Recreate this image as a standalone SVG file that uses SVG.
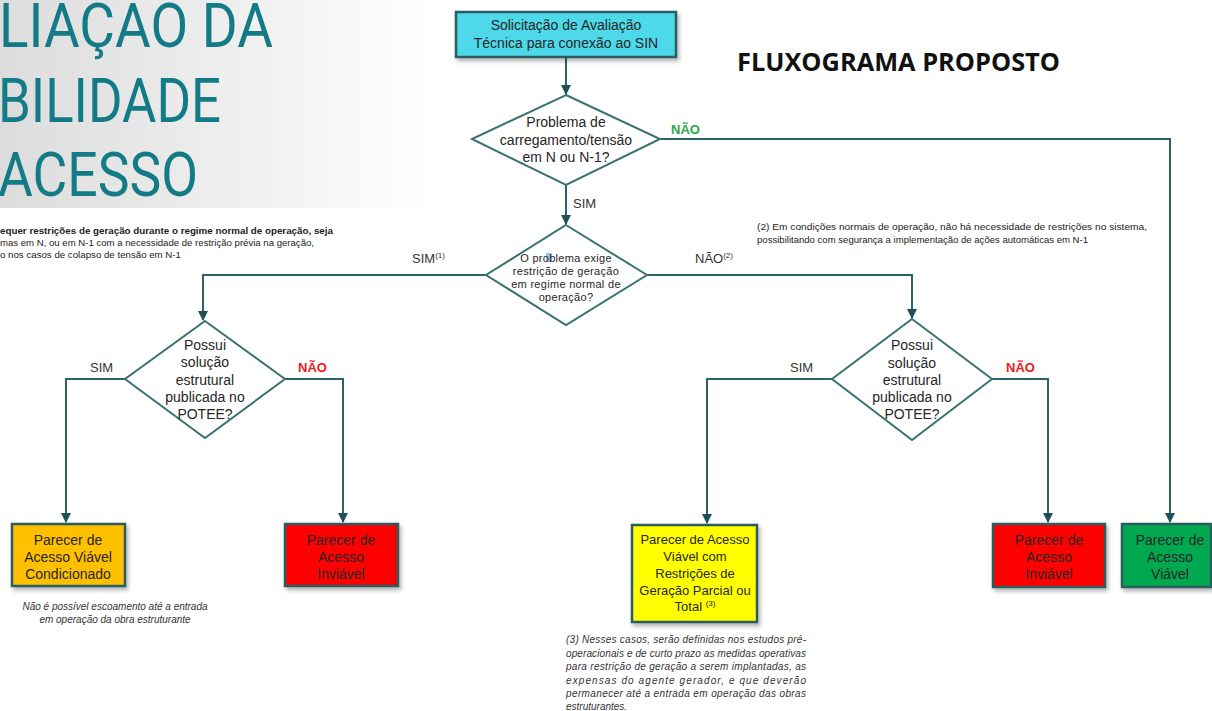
<svg xmlns="http://www.w3.org/2000/svg" width="1212" height="711" viewBox="0 0 1212 711">
<defs>
<linearGradient id="panel" x1="0" y1="0" x2="1" y2="0">
<stop offset="0" stop-color="#dcdcdc"/>
<stop offset="1" stop-color="#ffffff"/>
</linearGradient>
<filter id="sh" x="-10%" y="-10%" width="130%" height="140%">
<feDropShadow dx="2" dy="3" stdDeviation="2" flood-color="#000" flood-opacity="0.3"/>
</filter>
<marker id="ah" viewBox="0 0 10 10" markerUnits="userSpaceOnUse" markerWidth="10" markerHeight="10" refX="9" refY="5" orient="auto">
<path d="M0,0 L10,5 L0,10 z" fill="#1d5058"/>
</marker>
</defs>
<style>
.big{font-family:Roboto,"Liberation Sans",sans-serif;font-size:62px;fill:#127b85}
.t{font-family:"Liberation Sans",Arial,sans-serif;font-size:14px;fill:#262626;text-anchor:middle}
.ty{font-family:"Liberation Sans",Arial,sans-serif;font-size:13px;fill:#262626;text-anchor:middle}
.q{font-family:"Liberation Sans",Arial,sans-serif;font-size:11px;fill:#262626;text-anchor:middle;letter-spacing:0.3px}
.s{font-family:"Liberation Sans",Arial,sans-serif;font-size:9.5px;fill:#222}
.it{font-family:"Liberation Sans",Arial,sans-serif;font-size:10px;font-style:italic;fill:#333}
.lbl{font-family:"Liberation Sans",Arial,sans-serif;font-size:13px;fill:#333}
.no{font-family:"Liberation Sans",Arial,sans-serif;font-size:13px;font-weight:bold;fill:#ee1c1c}
.dia{fill:#fff;stroke:#3a7270;stroke-width:2}
.box{stroke:#2a5b61;stroke-width:2.5;filter:url(#sh)}
.con{fill:none;stroke:#2a6468;stroke-width:2;marker-end:url(#ah)}
</style>
<rect x="0" y="0" width="436" height="208" fill="url(#panel)"/>
<text class="big" x="-1" y="47" textLength="274" lengthAdjust="spacingAndGlyphs">LIAÇAO DA</text>
<text class="big" x="-2" y="122" textLength="223" lengthAdjust="spacingAndGlyphs">BILIDADE</text>
<text class="big" x="-2" y="196" textLength="200" lengthAdjust="spacingAndGlyphs">ACESSO</text>

<g id="note1">
<text class="s" x="0" y="234" textLength="333" lengthAdjust="spacingAndGlyphs" font-weight="bold">equer restrições de geração durante o regime normal de operação, seja</text>
<text class="s" x="0" y="246" textLength="314" lengthAdjust="spacingAndGlyphs">mas em N, ou em N-1 com a necessidade de restrição prévia na geração,</text>
<text class="s" x="0" y="258" textLength="181" lengthAdjust="spacingAndGlyphs">o nos casos de colapso de tensão em N-1</text>
</g>

<text x="737" y="71" font-family="'Open Sans','DejaVu Sans',sans-serif" font-weight="bold" font-size="25" fill="#111" textLength="323" lengthAdjust="spacingAndGlyphs">FLUXOGRAMA PROPOSTO</text>

<g id="note2">
<text class="s" x="757" y="230" textLength="390" lengthAdjust="spacingAndGlyphs">(2) Em condições normais de operação, não há necessidade de restrições no sistema,</text>
<text class="s" x="757" y="243" textLength="331" lengthAdjust="spacingAndGlyphs">possibilitando com segurança a implementação de ações automáticas em N-1</text>
</g>

<g id="connectors">
<path class="con" d="M566,57 V94"/>
<path class="con" d="M660,139 H1170 V522"/>
<path class="con" d="M566,185 V224"/>
<path class="con" d="M486,275 H203 V320"/>
<path class="con" d="M647,275 H912 V318"/>
<path class="con" d="M125,379 H66 V522"/>
<path class="con" d="M285,379 H343 V522"/>
<path class="con" d="M832,379 H707 V523"/>
<path class="con" d="M992,379 H1048 V522"/>
</g>

<g id="labels">
<text x="671" y="134" font-family="'Liberation Sans',Arial,sans-serif" font-size="13" font-weight="bold" fill="#2aa84a">NÃO</text>
<text class="lbl" x="573" y="208">SIM</text>
<text class="lbl" x="412" y="263">SIM<tspan font-size="8" dy="-5">(1)</tspan></text>
<text class="lbl" x="695" y="263">NÃO<tspan font-size="8" dy="-5">(2)</tspan></text>
<text class="lbl" x="90" y="372">SIM</text>
<text class="no" x="298" y="372">NÃO</text>
<text class="lbl" x="790" y="372">SIM</text>
<text class="no" x="1006" y="372">NÃO</text>
</g>

<g id="start">
<rect class="box" x="456" y="12" width="220" height="45" fill="#4dd9ea"/>
<text class="t" x="566" y="30">Solicitação de Avaliação</text>
<text class="t" x="566" y="48">Técnica para conexão ao SIN</text>
</g>

<g id="d1">
<polygon class="dia" points="566,95 660,139 566,185 472,139"/>
<text class="t" x="566" y="127">Problema de</text>
<text class="t" x="566" y="145">carregamento/tensão</text>
<text class="t" x="566" y="162">em N ou N-1?</text>
</g>

<g id="d2">
<polygon class="dia" points="566,225 647,275 566,325 486,275"/>
<rect x="546" y="253" width="6" height="9" fill="#9ec3e8"/>
<text class="q" x="566" y="262">O problema exige</text>
<text class="q" x="566" y="275">restrição de geração</text>
<text class="q" x="566" y="288">em regime normal de</text>
<text class="q" x="566" y="301">operação?</text>
</g>

<g id="d3">
<polygon class="dia" points="205,321 285,379 205,438 125,379"/>
<text class="t" x="205" y="350">Possui</text>
<text class="t" x="205" y="367">solução</text>
<text class="t" x="205" y="385">estrutural</text>
<text class="t" x="205" y="402">publicada no</text>
<text class="t" x="205" y="419">POTEE?</text>
</g>

<g id="d4">
<polygon class="dia" points="912,319 992,379 912,440 832,379"/>
<text class="t" x="912" y="350">Possui</text>
<text class="t" x="912" y="368">solução</text>
<text class="t" x="912" y="385">estrutural</text>
<text class="t" x="912" y="402">publicada no</text>
<text class="t" x="912" y="419">POTEE?</text>
</g>

<g id="b1">
<rect class="box" x="12" y="524" width="113" height="62" fill="#ffc000"/>
<text class="t" x="68" y="545">Parecer de</text>
<text class="t" x="68" y="562">Acesso Viável</text>
<text class="t" x="68" y="579">Condicionado</text>
</g>

<g id="b2">
<rect class="box" x="285" y="524" width="113" height="62" fill="#ff0000"/>
<text class="t" x="341" y="545">Parecer de</text>
<text class="t" x="341" y="562">Acesso</text>
<text class="t" x="341" y="579">Inviável</text>
</g>

<g id="b3">
<rect class="box" x="632" y="525" width="125" height="97" fill="#ffff00"/>
<text class="ty" x="695" y="544">Parecer de Acesso</text>
<text class="ty" x="695" y="561">Viável com</text>
<text class="ty" x="695" y="578">Restrições de</text>
<text class="ty" x="695" y="595">Geração Parcial ou</text>
<text class="ty" x="695" y="611">Total <tspan font-size="8" dy="-5">(3)</tspan></text>
</g>

<g id="b4">
<rect class="box" x="993" y="524" width="112" height="63" fill="#ff0000"/>
<text class="t" x="1049" y="545">Parecer de</text>
<text class="t" x="1049" y="562">Acesso</text>
<text class="t" x="1049" y="579">Inviável</text>
</g>

<g id="b5">
<rect class="box" x="1122" y="524" width="89" height="63" fill="#00a850"/>
<text class="t" x="1170" y="545">Parecer de</text>
<text class="t" x="1170" y="562">Acesso</text>
<text class="t" x="1170" y="579">Viável</text>
</g>

<g id="note-b1">
<text class="it" x="115" y="610" text-anchor="middle">Não é possível escoamento até a entrada</text>
<text class="it" x="115" y="623" text-anchor="middle">em operação da obra estruturante</text>
</g>

<g id="note3">
<text class="it" x="566" y="643" textLength="240" lengthAdjust="spacing">(3) Nesses casos, serão definidas nos estudos pré-</text>
<text class="it" x="566" y="657" textLength="240" lengthAdjust="spacing">operacionais e de curto prazo as medidas operativas</text>
<text class="it" x="566" y="670" textLength="240" lengthAdjust="spacing">para restrição de geração a serem implantadas, as</text>
<text class="it" x="566" y="684" textLength="240" lengthAdjust="spacing">expensas do agente gerador, e que deverão</text>
<text class="it" x="566" y="697" textLength="240" lengthAdjust="spacing">permanecer até a entrada em operação das obras</text>
<text class="it" x="566" y="710">estruturantes.</text>
</g>
</svg>
